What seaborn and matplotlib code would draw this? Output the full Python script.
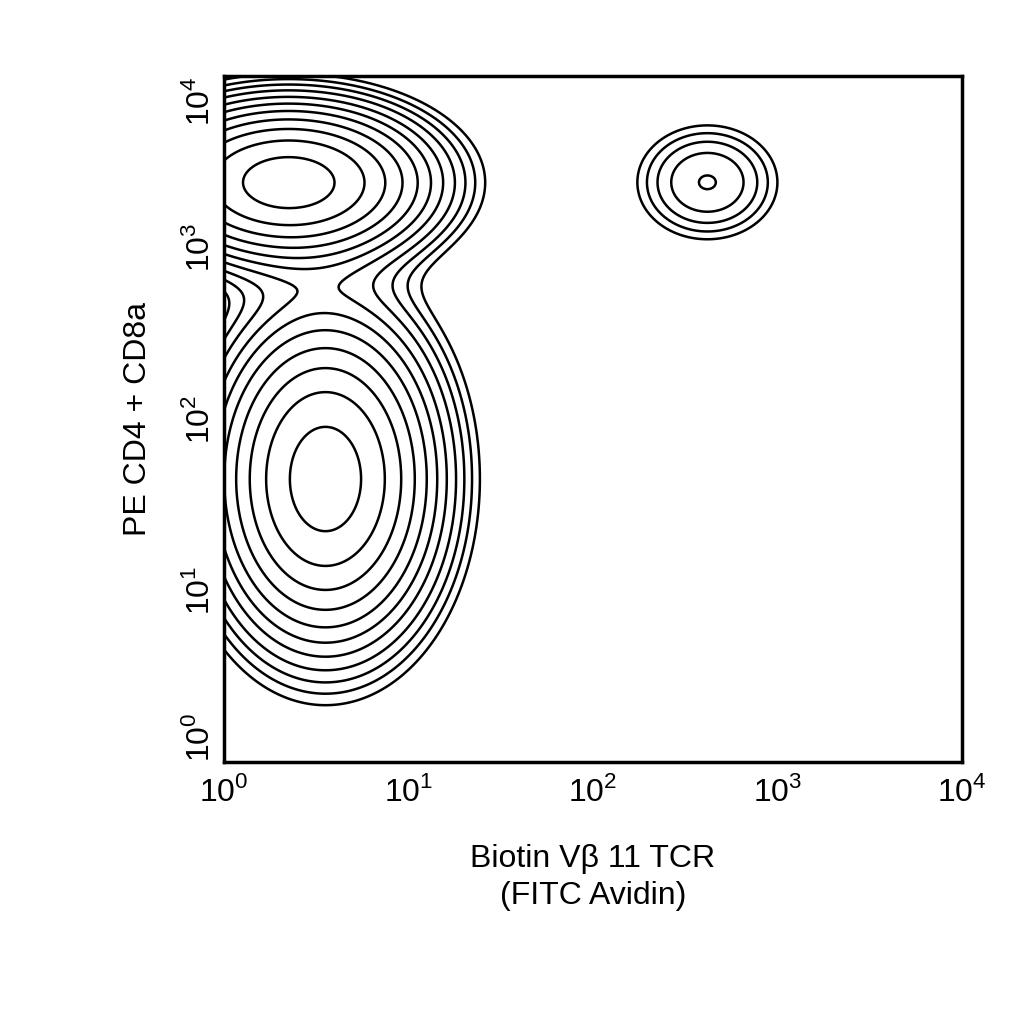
import numpy as np
import matplotlib
matplotlib.use("Agg")
import matplotlib.pyplot as plt
import seaborn as sns

# populations in log10 units: (x centre, y centre, x sd, y sd, weight)
pop_names = ["CD4/CD8+ Vb11-", "DN Vb11-", "CD4/CD8+ Vb11+"]
pop_x = [0.35, 0.55, 2.62]
pop_y = [3.38, 1.65, 3.38]
pop_sx = [0.42, 0.33, 0.24]
pop_sy = [0.25, 0.52, 0.21]
pop_w = [1.0, 1.0, 0.14]
contour_levels = [0.04, 0.055, 0.074, 0.1, 0.137, 0.185, 0.25, 0.34, 0.46, 0.62, 0.84]
tick_pos = [1, 10, 100, 1000, 10000]
tick_lab = ["$10^0$", "$10^1$", "$10^2$", "$10^3$", "$10^4$"]

sns.set_theme(style="white")
plt.rcParams['font.family'] = ['Liberation Sans', 'DejaVu Sans']
plt.rcParams['text.color'] = 'black'
plt.rcParams['xtick.color'] = 'black'
plt.rcParams['ytick.color'] = 'black'
plt.rcParams['axes.labelcolor'] = 'black'
plt.rcParams['mathtext.fontset'] = 'custom'
plt.rcParams['mathtext.rm'] = 'Liberation Sans'

lx = np.linspace(0, 4, 400)
ly = np.linspace(0, 4, 400)
GX, GY = np.meshgrid(lx, ly)
D = np.zeros_like(GX)
for x0, y0, sx, sy, w in zip(pop_x, pop_y, pop_sx, pop_sy, pop_w):
    D += w * np.exp(-0.5 * (((GX - x0) / sx) ** 2 + ((GY - y0) / sy) ** 2))
D /= D.max()

fig = plt.figure(figsize=(10.24, 10.24), dpi=100)
ax = fig.add_axes([224/1024, 1-762/1024, 738/1024, 686/1024])
ax.contour(10**GX, 10**GY, D, levels=contour_levels, colors="black", linewidths=1.8)
ax.set_xscale("log"); ax.set_yscale("log")
ax.set_xlim(1, 10000); ax.set_ylim(1, 10000)
ax.set_xticks(tick_pos); ax.set_xticklabels(tick_lab, fontsize=23)
ax.set_yticks(tick_pos); ax.set_yticklabels(tick_lab, fontsize=23, rotation=90, va="center")
ax.get_yticklabels()[0].set_va("bottom")
ax.get_yticklabels()[-1].set_va("top")
ax.minorticks_off()
ax.tick_params(axis="x", length=0, pad=10)
ax.tick_params(axis="y", length=0, pad=6)
for s in ax.spines.values():
    s.set_linewidth(2.5); s.set_color("black")
ax.set_xlabel("Biotin V\u03b2 11 TCR\n(FITC Avidin)", fontsize=23, labelpad=26, linespacing=1.3)
ax.set_ylabel("PE CD4 + CD8a", fontsize=23, labelpad=22)
fig.savefig("out.png", dpi=100, facecolor="white")
